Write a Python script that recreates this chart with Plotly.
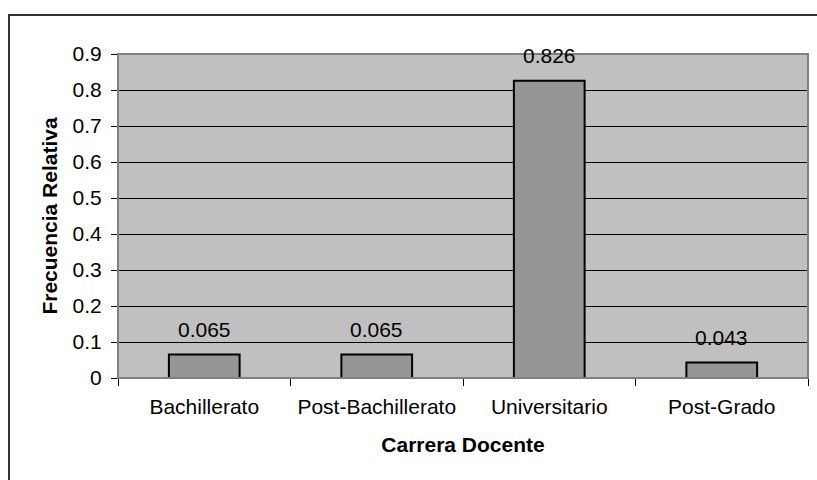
import plotly.graph_objects as go

categorias = ["Bachillerato", "Post-Bachillerato", "Universitario", "Post-Grado"]
frecuencia = [0.065, 0.065, 0.826, 0.043]
etiquetas = ["0.065", "0.065", "0.826", "0.043"]
y_ticks = [0, 0.1, 0.2, 0.3, 0.4, 0.5, 0.6, 0.7, 0.8, 0.9]
y_tick_text = ["0", "0.1", "0.2", "0.3", "0.4", "0.5", "0.6", "0.7", "0.8", "0.9"]

W, H = 817, 480
L, R, T, B = 118, 9, 54, 102
pw, ph = W - L - R, H - T - B

FONT = "Liberation Sans, Arial, sans-serif"
FS = 21

fig = go.Figure()
fig.add_trace(go.Bar(
    x=categorias, y=frecuencia, width=0.41,
    marker=dict(color="#969696", line=dict(color="black", width=2)),
    hoverinfo="x+y",
))

for c, v, t in zip(categorias, frecuencia, etiquetas):
    fig.add_annotation(x=c, y=v, text=t, showarrow=False, yanchor="middle",
                       yshift=25, font=dict(family=FONT, size=FS, color="black"))

# outer chart frame (continues past right and bottom edges)
fig.add_shape(type="rect", xref="paper", yref="paper",
              x0=(9 - L) / pw, x1=(W + 20 - L) / pw,
              y0=-(B + 20) / ph, y1=1 + (T - 15) / ph,
              line=dict(color="#333333", width=2), layer="below")
# plot area border
fig.add_shape(type="rect", xref="paper", yref="paper", x0=0, x1=1, y0=0, y1=1,
              line=dict(color="#808080", width=2), layer="above")

fig.update_layout(
    width=W, height=H,
    margin=dict(l=L, r=R, t=T, b=B),
    paper_bgcolor="white", plot_bgcolor="#C0C0C0",
    showlegend=False,
    font=dict(family=FONT, size=FS, color="black"),
    bargap=0.59,
)
fig.update_xaxes(
    type="category", tickson="boundaries", ticks="outside", ticklen=7,
    tickcolor="black", tickwidth=1,
    showline=True, linecolor="black", linewidth=1,
    showgrid=False, ticklabelstandoff=10,
    tickfont=dict(family=FONT, size=FS, color="black"),
    title=dict(text="<b>Carrera Docente</b>", font=dict(family=FONT, size=FS, color="black"),
               standoff=20),
)
fig.update_yaxes(
    range=[0, 0.9], tickvals=y_ticks, ticktext=y_tick_text,
    ticks="outside", ticklen=6, tickcolor="black", tickwidth=1,
    showline=True, linecolor="black", linewidth=1,
    showgrid=True, gridcolor="black", gridwidth=1, zeroline=False,
    ticklabelstandoff=5,
    tickfont=dict(family=FONT, size=FS, color="black"),
    title=dict(text="<b>Frecuencia Relativa</b>", font=dict(family=FONT, size=FS, color="black"),
               standoff=9),
)

fig.write_html("out.html")
